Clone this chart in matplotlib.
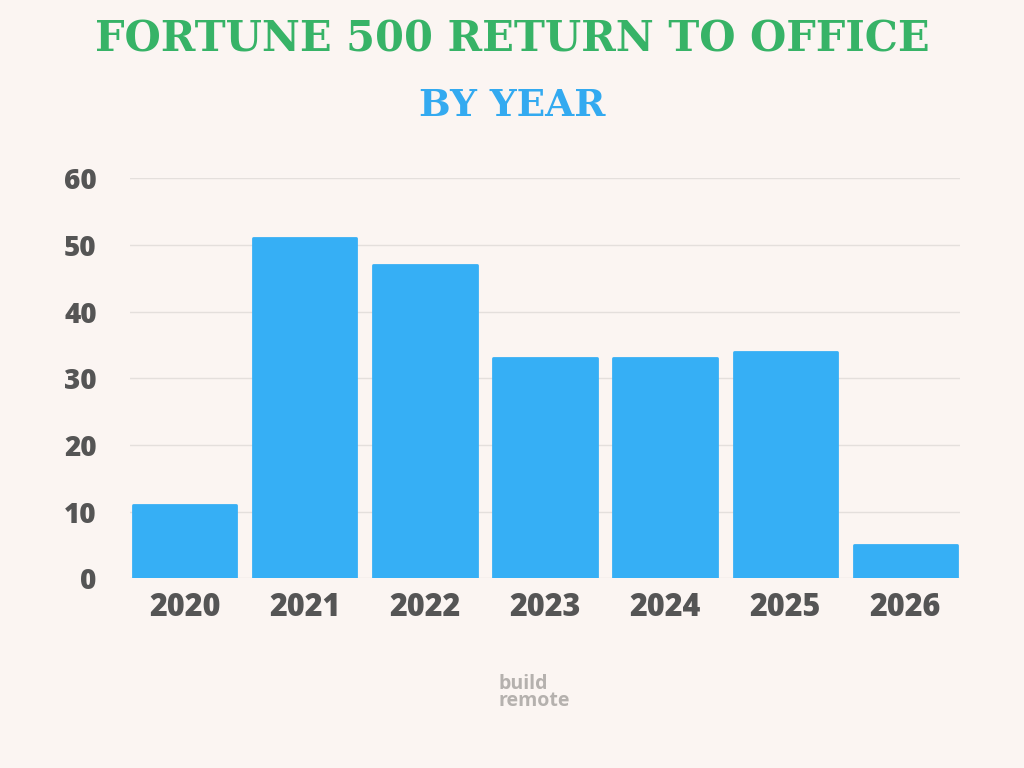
import matplotlib
matplotlib.use("Agg")
import matplotlib.pyplot as plt

years = ["2020", "2021", "2022", "2023", "2024", "2025", "2026"]
values = [11, 51, 47, 33, 33, 34, 5]
yticks = [0, 10, 20, 30, 40, 50, 60]

bg = "#fbf5f2"
fig = plt.figure(figsize=(10.24, 7.68), dpi=100, facecolor=bg)
ax = fig.add_axes([0.127, 0.247, 0.8105, 0.521], facecolor=bg)
x = list(range(len(years)))
ax.bar(x, values, width=0.86, color="#36aff5", edgecolor="#36aff5",
       linewidth=2, joinstyle="round", zorder=3)
ax.set_xlim(-0.455, 6.455)
ax.set_ylim(0, 60)
ax.set_yticks(yticks)
ax.set_yticklabels([str(v) for v in yticks])
ax.set_xticks(x)
ax.set_xticklabels(years)
ax.grid(axis="y", color="#e4dfdc", linewidth=1, zorder=0)
for s in ax.spines.values():
    s.set_visible(False)
ax.tick_params(length=0, colors="#555555")
for t in ax.get_xticklabels():
    t.set_fontsize(22); t.set_fontweight("heavy"); t.set_fontfamily("Open Sans")
for t in ax.get_yticklabels():
    t.set_fontsize(20); t.set_fontweight("heavy"); t.set_fontfamily("Open Sans")
ax.tick_params(axis="x", pad=10)
ax.tick_params(axis="y", pad=24)

fig.text(0.5, 0.948, "FORTUNE 500 RETURN TO OFFICE", ha="center", va="center",
         fontsize=30, fontweight="heavy", family="DejaVu Serif", color="#37b367")
fig.text(0.5, 0.862, "BY YEAR", ha="center", va="center",
         fontsize=27, fontweight="heavy", family="DejaVu Serif", color="#33aaf0")
fig.text(0.487, 0.098, "build\nremote", ha="left", va="center", fontsize=14,
         fontweight="bold", color="#b5b1ae", family="Open Sans", linespacing=0.8)
fig.savefig("out.png", dpi=100, facecolor=bg)
